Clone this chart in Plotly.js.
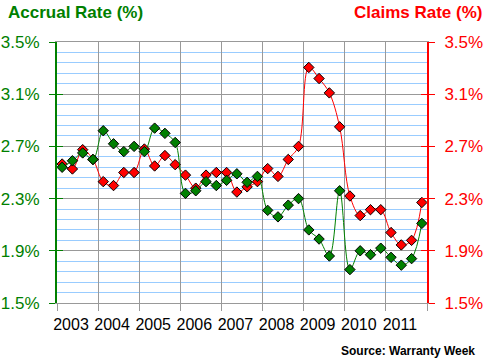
<!DOCTYPE html>
<html>
<head>
<meta charset="utf-8">
<script src="https://cdn.plot.ly/plotly-3.0.1.min.js"></script>
<style>
  html, body { margin: 0; padding: 0; background: #fff; }
  #chart { width: 487px; height: 362px; }
</style>
</head>
<body>
<div id="chart"></div>
<script>
// Quarterly data, 2003 Q1 .. 2011 Q4
const years = [2003, 2004, 2005, 2006, 2007, 2008, 2009, 2010, 2011];
const accrualRate = [
  2.54, 2.59, 2.65, 2.60,
  2.82, 2.72, 2.66, 2.70,
  2.66, 2.84, 2.80, 2.73,
  2.34, 2.36, 2.43, 2.40,
  2.44, 2.49, 2.425, 2.47,
  2.21, 2.16, 2.25, 2.30,
  2.06, 1.99, 1.86, 2.36,
  1.756, 1.90, 1.87, 1.92,
  1.85, 1.79, 1.84, 2.11
];
const claimsRate = [
  2.565, 2.527, 2.675, 2.60,
  2.43, 2.40, 2.50, 2.50,
  2.68, 2.55, 2.63, 2.56,
  2.48, 2.38, 2.48, 2.50,
  2.50, 2.35, 2.39, 2.43,
  2.53, 2.47, 2.60, 2.70,
  3.305, 3.22, 3.11, 2.85,
  2.32, 2.17, 2.215, 2.215,
  2.04, 1.945, 1.98, 2.27
];
const rateTicks = [1.5, 1.9, 2.3, 2.7, 3.1, 3.5];
const rateTickText = ['1.5%', '1.9%', '2.3%', '2.7%', '3.1%', '3.5%'];

const xPos = accrualRate.map((_, i) => years[0] + (i + 0.5) / 4);
const xTicks = years.concat([years[years.length - 1] + 1]);
const xTickText = years.map(String).concat(['']);

const GREEN = '#008000';
const RED = '#ff0000';
const GRAY = '#999999';
const FONT = 'Arial, "Liberation Sans", sans-serif';

const traces = [
  {
    x: xPos, y: claimsRate, yaxis: 'y', type: 'scatter', mode: 'lines+markers',
    line: { color: RED, width: 1, shape: 'spline', smoothing: 1 },
    marker: { symbol: 'diamond', size: 8, color: RED, line: { color: '#000', width: 1 } },
    hoverinfo: 'skip'
  },
  {
    x: xPos, y: accrualRate, yaxis: 'y2', type: 'scatter', mode: 'lines+markers',
    line: { color: GREEN, width: 1, shape: 'spline', smoothing: 1 },
    marker: { symbol: 'diamond', size: 8, color: GREEN, line: { color: '#000', width: 1 } },
    hoverinfo: 'skip'
  },
  // empty helper traces so the inner-tick axes get drawn
  { x: [], y: [], yaxis: 'y3', type: 'scatter', mode: 'lines', hoverinfo: 'skip' },
  { x: [], y: [], yaxis: 'y4', type: 'scatter', mode: 'lines', hoverinfo: 'skip' }
];

const yCommon = {
  range: [1.5, 3.5], tickmode: 'array', tickvals: rateTicks, ticktext: rateTickText,
  zeroline: false, fixedrange: true
};

const layout = {
  width: 487, height: 362,
  margin: { l: 57, r: 60, t: 42, b: 59 },
  paper_bgcolor: '#fff', plot_bgcolor: '#fff',
  showlegend: false,
  font: { family: FONT, color: '#000' },
  xaxis: {
    range: [2003, 2012], tickmode: 'array', tickvals: xTicks, ticktext: xTickText,
    ticklabelshift: 14,
    showgrid: true, gridcolor: GRAY, gridwidth: 1,
    showline: true, linecolor: GRAY, linewidth: 1, mirror: true,
    ticks: 'outside', ticklen: 7, tickcolor: GRAY, tickwidth: 1,
    tickfont: { size: 16, color: '#000', family: FONT },
    zeroline: false, fixedrange: true
  },
  yaxis: Object.assign({}, yCommon, {
    side: 'right',
    showgrid: true, gridcolor: GRAY, gridwidth: 1,
    minor: { tick0: 1.5, dtick: 0.08, showgrid: true, gridcolor: '#99ccff', gridwidth: 1, ticks: '' },
    showline: true, linecolor: RED, linewidth: 2,
    ticks: 'outside', ticklen: 6, tickcolor: RED, tickwidth: 1,
    ticklabelstandoff: 6,
    tickfont: { size: 17, color: RED, family: FONT }
  }),
  yaxis2: Object.assign({}, yCommon, {
    overlaying: 'y', side: 'left',
    showgrid: false,
    showline: true, linecolor: GREEN, linewidth: 2,
    ticks: 'outside', ticklen: 6, tickcolor: GREEN, tickwidth: 1,
    ticklabelstandoff: 6,
    tickfont: { size: 17, color: GREEN, family: FONT }
  }),
  yaxis3: Object.assign({}, yCommon, {
    overlaying: 'y', side: 'left', showgrid: false, showline: false,
    ticks: 'inside', ticklen: 6, tickcolor: GREEN, tickwidth: 1, showticklabels: false
  }),
  yaxis4: Object.assign({}, yCommon, {
    overlaying: 'y', side: 'right', showgrid: false, showline: false,
    ticks: 'inside', ticklen: 6, tickcolor: RED, tickwidth: 1, showticklabels: false
  }),
  annotations: [
    {
      text: '<b>Accrual Rate (%)</b>', xref: 'paper', yref: 'paper', x: 0, y: 1,
      xanchor: 'left', yanchor: 'middle', xshift: -51, yshift: 30, showarrow: false,
      font: { size: 17, color: GREEN, family: FONT }
    },
    {
      text: '<b>Claims Rate (%)</b>', xref: 'paper', yref: 'paper', x: 1, y: 1,
      xanchor: 'right', yanchor: 'middle', xshift: 57, yshift: 30, showarrow: false,
      font: { size: 17, color: RED, family: FONT }
    },
    {
      text: '<b>Source: Warranty Week</b>', xref: 'paper', yref: 'paper', x: 1, y: 0,
      xanchor: 'right', yanchor: 'middle', xshift: 50, yshift: -48, showarrow: false,
      font: { size: 12, color: '#000', family: FONT }
    }
  ]
};

Plotly.newPlot('chart', traces, layout, { displayModeBar: false, staticPlot: true });
</script>
</body>
</html>
